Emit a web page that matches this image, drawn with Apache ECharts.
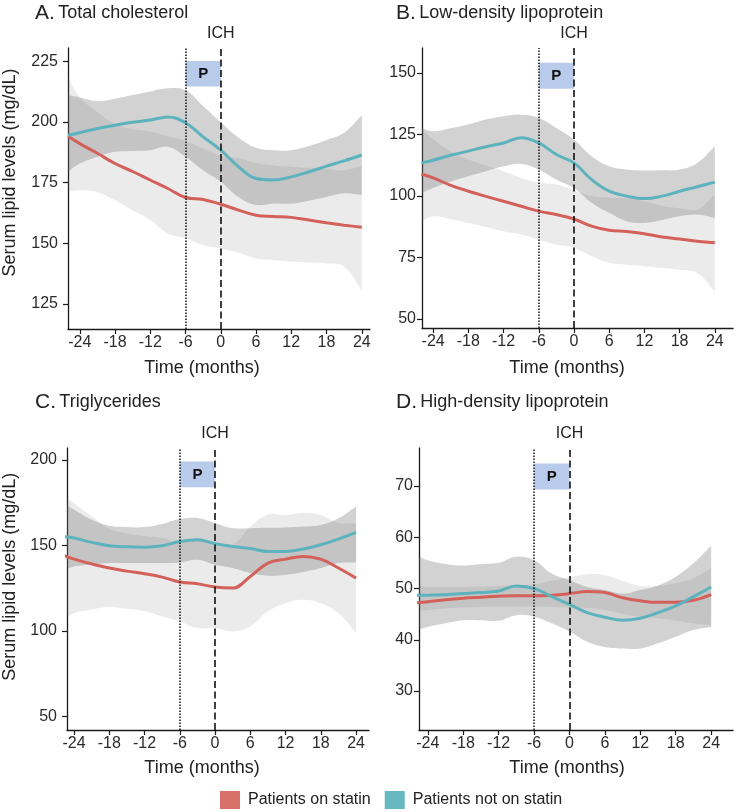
<!DOCTYPE html>
<html>
<head>
<meta charset="utf-8">
<script src="https://cdn.jsdelivr.net/npm/echarts@6/dist/echarts.min.js"></script>
<style>
html,body{margin:0;padding:0;background:#fff;}
#chart{width:739px;height:812px;}
</style>
</head>
<body>
<div id="chart"></div>
<script>
// ---- data ----
const months = [-26,-24,-21,-18,-15,-12,-9,-6,-3,0,3,6,9,12,15,18,21,24];
const xTicks = [-24,-18,-12,-6,0,6,12,18,24];
const eventMonths = [-6, 0];            // start of P period, ICH
const seriesNames = ['Patients on statin', 'Patients not on statin'];

// A. Total cholesterol
const tcStatin     = [194,191,187,182.8,179.5,176,172.5,168.8,168,166,163.6,161.5,161,160.6,159.5,158.4,157.4,156.5];
const tcStatinLo   = [171.2,171.8,171,167.7,163.5,159.5,154,152,149.2,147.8,146,143.7,143,142.3,142,141.6,140.3,130.6];
const tcStatinHi   = [218.5,210,204,199,197,196,194,192,189,186,185,183,182,181.5,181,180.5,180,182];
const tcNoStatin   = [194.5,195.5,197.2,198.6,199.8,200.7,202.0,199.6,193.8,188.3,181.5,176.6,176.0,177.3,179.4,181.7,183.9,186.3];
const tcNoStatinLo = [179.4,182.8,185.5,187.6,188,188.3,189.7,185.6,180,175.3,169,165.7,166.3,166.3,167.5,169,170.5,169.8];
const tcNoStatinHi = [211,210,208.5,209.5,211,212.5,213.8,213,206.5,199.8,193.5,189.3,188.3,188.3,190,192.5,195.5,202.7];
const tcTicks = [125,150,175,200,225];
const tcPBox = [214.5, 225];

// B. Low-density lipoprotein
const ldlStatin     = [108.9,107.3,104.3,101.9,99.8,97.8,95.8,93.8,92.4,90.6,87.7,86,85.5,84.6,83.3,82.5,81.6,80.9];
const ldlStatinLo   = [89.7,91.7,90.5,89,87.3,85.6,84.3,82.2,80.2,78.9,75.5,72.8,72,71.4,70.7,70,68.7,61.2];
const ldlStatinHi   = [127.2,123,118,114.8,112.3,110,107.3,105.4,104.6,102.3,99.9,99.2,99,97.8,95.9,95,94.5,100.6];
const ldlNoStatin   = [113.4,114.5,116.5,118.2,120,121.5,123.6,121.5,116.8,113.4,106.6,101.9,99.9,98.9,99.9,101.9,103.7,105.6];
const ldlNoStatinLo = [101.2,103.2,105.8,108,110,112,113,110.7,106.6,103.2,97.2,93.1,89.7,89,90.2,91.7,92.4,91];
const ldlNoStatinHi = [127.6,126.3,127.5,129,131,132.4,133,131.7,127.6,122.9,116.1,112,110.7,110.3,110.4,110.7,113.4,120.2];
const ldlTicks = [50,75,100,125,150];
const ldlPBox = [143.5, 154.1];

// C. Triglycerides
const tgStatin     = [144.5,142,139.2,136.8,135,133.5,131.5,128.6,127.6,125.7,125.1,131.9,139.7,142,143.6,142,136.8,130.9];
const tgStatinLo   = [106,110.5,112.5,114,113,111.5,108.6,105.6,101.7,101.7,99.8,102.7,111.5,116.3,118.3,116.3,110.5,98.8];
const tgStatinHi   = [180,174.7,167,159.6,157,155.5,154.4,151.6,153.5,149.7,150.4,161,168,167.7,168.9,167.7,163,163];
const tgNoStatin   = [155.2,154.3,151.8,149.8,149.2,149,149.8,152.3,153.3,151,149.4,148.2,146.5,146.5,147.9,150.4,153.7,157.6];
const tgNoStatinLo = [135.5,137.7,138.8,139.7,139.7,139.7,139.7,140,141.6,138.7,136.8,133.9,132.3,132.8,134.5,136.8,139.7,140.1];
const tgNoStatinHi = [175,170.8,165,161.5,160.8,160.7,162.5,165.4,166,163,160.1,160.1,160.3,160.5,161,162,165.9,172.8];
const tgTicks = [50,100,150,200];
const tgPBox = [184, 199];

// D. High-density lipoprotein
const hdlStatin     = [47.2,47.4,47.8,48.1,48.3,48.5,48.6,48.6,48.7,49.0,49.4,49.2,48.2,47.6,47.3,47.3,47.7,48.8];
const hdlStatinLo   = [45.5,45.8,46.1,46.3,46.4,46.5,46.5,46.5,46.4,46.3,46.2,45.8,45,44.5,44.2,43.8,43.2,42.8];
const hdlStatinHi   = [50.5,50.3,50.3,50.3,50.4,50.5,50.7,50.8,51.5,52.2,52.8,52.6,51.5,50.5,50.5,51,52,54];
const hdlNoStatin   = [48.7,48.7,48.8,49.0,49.2,49.5,50.5,50.0,48.4,46.9,45.3,44.4,43.8,44.2,45.3,46.6,48.4,50.3];
const hdlNoStatinLo = [41.9,42.5,43.2,43.8,43.8,43.7,44.8,44.5,43.2,41.6,39.6,38.6,38.3,38.3,39.3,40.6,41.9,42.5];
const hdlNoStatinHi = [56.5,55.5,54.8,54.5,54.8,55,56.2,55.5,52.9,51.6,50.3,49.7,49,49.7,50.6,52.3,54.9,58.4];
const hdlTicks = [30,40,50,60,70];
const hdlPBox = [69.3, 74.4];

const titles = ['A.', 'B.', 'C.', 'D.'];
const subtitles = ['Total cholesterol', 'Low-density lipoprotein', 'Triglycerides', 'High-density lipoprotein'];

// ---- layout / style ----
const RED = '#d4605a', TEAL = '#5cb3bd';
const SMOOTH = 0.4;
const panels = [
  {grid:{left:68,top:48,width:302,height:281}, x:[-26.0,25.4], y:[114.6,230.4], labelMargin:10,
   s:tcStatin, sLo:tcStatinLo, sHi:tcStatinHi, n:tcNoStatin, nLo:tcNoStatinLo, nHi:tcNoStatinHi, ticks:tcTicks, p:tcPBox},
  {grid:{left:422,top:48,width:311,height:280}, x:[-25.9,27.1], y:[46.3,160.1], labelMargin:6,
   s:ldlStatin, sLo:ldlStatinLo, sHi:ldlStatinHi, n:ldlNoStatin, nLo:ldlNoStatinLo, nHi:ldlNoStatinHi, ticks:ldlTicks, p:ldlPBox},
  {grid:{left:67,top:448,width:302,height:282}, x:[-25.2,26.2], y:[42.2,206.9], labelMargin:10,
   s:tgStatin, sLo:tgStatinLo, sHi:tgStatinHi, n:tgNoStatin, nLo:tgNoStatinLo, nHi:tgNoStatinHi, ticks:tgTicks, p:tgPBox},
  {grid:{left:419,top:448,width:314,height:282}, x:[-25.5,27.7], y:[22.4,77.4], labelMargin:6,
   s:hdlStatin, sLo:hdlStatinLo, sHi:hdlStatinHi, n:hdlNoStatin, nLo:hdlNoStatinLo, nHi:hdlNoStatinHi, ticks:hdlTicks, p:hdlPBox}
];
const titlePos = [[35,13],[396,13],[35,402],[396,402]];
const xTitlePos = [[202,368],[567,368],[202,768],[567,768]];
const yTitlePos = [[10,172.5],[10,576.7]];

const FONT = '"Liberation Sans", Arial, Helvetica, sans-serif';
const pair = (xs, ys) => xs.map((x, i) => [x, ys[i]]);

// smooth curve through pixel points (same scheme as the line series' smoothing)
function curvePath(pts, first) {
  let d = (first ? 'M' : 'L') + pts[0][0] + ' ' + pts[0][1];
  const n = pts.length;
  const cp = pts.map((p, i) => {
    const prev = pts[Math.max(i - 1, 0)], next = pts[Math.min(i + 1, n - 1)];
    const vx = next[0] - prev[0], vy = next[1] - prev[1];
    const l0 = Math.hypot(p[0] - prev[0], p[1] - prev[1]);
    const l1 = Math.hypot(next[0] - p[0], next[1] - p[1]);
    const r = (l0 + l1) ? l1 / (l0 + l1) : 0.5;
    return {
      out: [p[0] + vx * SMOOTH * r, p[1] + vy * SMOOTH * r],
      inn: [p[0] - vx * SMOOTH * (1 - r), p[1] - vy * SMOOTH * (1 - r)]
    };
  });
  for (let i = 0; i < n - 1; i++) {
    const a = cp[i].out, b = cp[i + 1].inn, q = pts[i + 1];
    d += ' C' + a[0] + ' ' + a[1] + ' ' + b[0] + ' ' + b[1] + ' ' + q[0] + ' ' + q[1];
  }
  return d;
}

function bandSeries(i, lo, hi, fill) {
  return {
    type:'custom', xAxisIndex:i, yAxisIndex:i, silent:true, animation:false, clip:true, z:1,
    data: months.map((m, k) => [m, lo[k], hi[k]]),
    renderItem: function (params, api) {
      if (params.dataIndex !== 0) return null;
      const up = [], dn = [];
      for (let k = 0; k < months.length; k++) {
        up.push(api.coord([months[k], hi[k]]));
        dn.push(api.coord([months[k], lo[k]]));
      }
      dn.reverse();
      const d = curvePath(up, true) + ' ' + curvePath(dn, false) + ' Z';
      const cs = params.coordSys;
      return {
        type:'path', shape:{pathData:d}, style:{fill:fill, stroke:null},
        clipPath:{type:'rect', shape:{x:cs.x, y:cs.y, width:cs.width, height:cs.height}}
      };
    }
  };
}

const grids = [], xAxes = [], yAxes = [], series = [], graphics = [];
panels.forEach((p, i) => {
  grids.push(Object.assign({containLabel:false}, p.grid));
  xAxes.push({
    type:'value', gridIndex:i, min:p.x[0], max:p.x[1],
    axisLine:{show:true, onZero:false, lineStyle:{color:'#1a1a1a', width:1.3}},
    axisTick:{show:true, length:5, customValues:xTicks, lineStyle:{color:'#1a1a1a', width:1.2}},
    axisLabel:{customValues:xTicks, fontSize:16, color:'#2b2b2b', margin:6, fontFamily:FONT},
    splitLine:{show:false}
  });
  yAxes.push({
    type:'value', gridIndex:i, min:p.y[0], max:p.y[1],
    axisLine:{show:true, onZero:false, lineStyle:{color:'#1a1a1a', width:1.3}},
    axisTick:{show:true, length:5, customValues:p.ticks, lineStyle:{color:'#1a1a1a', width:1.2}},
    axisLabel:{customValues:p.ticks, fontSize:16, color:'#2b2b2b', margin:p.labelMargin, fontFamily:FONT},
    splitLine:{show:false}
  });
  series.push(bandSeries(i, p.sLo, p.sHi, 'rgba(110,110,110,0.14)'));
  series.push(bandSeries(i, p.nLo, p.nHi, 'rgba(100,100,100,0.29)'));
  const base = {xAxisIndex:i, yAxisIndex:i, showSymbol:false, symbol:'none', smooth:SMOOTH, silent:true, animation:false, clip:true};
  series.push(Object.assign({}, base, {type:'line', name:seriesNames[0], data:pair(months,p.s), lineStyle:{color:RED, width:3}, itemStyle:{color:RED}, z:3}));
  series.push(Object.assign({}, base, {type:'line', name:seriesNames[1], data:pair(months,p.n), lineStyle:{color:TEAL, width:3}, itemStyle:{color:TEAL}, z:3,
    markArea:{silent:true, itemStyle:{color:'#b9cbea'},
      label:{show:true, position:'inside', formatter:'P', fontWeight:'bold', fontSize:15, color:'#111', fontFamily:FONT},
      data:[[{xAxis:eventMonths[0], yAxis:p.p[0]},{xAxis:eventMonths[1], yAxis:p.p[1]}]]},
    markLine:{silent:true, symbol:['none','none'], animation:false,
      data:[
        {xAxis:eventMonths[0], lineStyle:{type:[1.5,1.5], color:'#111', width:1.5}, label:{show:false}},
        {xAxis:eventMonths[1], lineStyle:{type:[7,3.5], color:'#111', width:1.6},
         label:{show:true, position:'end', formatter:'ICH', fontSize:16, color:'#222', distance:6, fontFamily:FONT}}
      ]}
  }));
  graphics.push({type:'text', x:titlePos[i][0], y:titlePos[i][1], silent:true,
    style:{text:'{a|'+titles[i]+'} {b|'+subtitles[i]+'}', verticalAlign:'middle', align:'left',
      rich:{a:{fontSize:21, fontFamily:FONT, fill:'#222'}, b:{fontSize:18, fontFamily:FONT, fill:'#222'}}}});
  graphics.push({type:'text', x:xTitlePos[i][0], y:xTitlePos[i][1], silent:true,
    style:{text:'Time (months)', fontSize:18, fontFamily:FONT, fill:'#222', align:'center', verticalAlign:'middle'}});
});
yTitlePos.forEach(pos => {
  graphics.push({type:'text', x:pos[0], y:pos[1], rotation:Math.PI/2, silent:true,
    style:{text:'Serum lipid levels (mg/dL)', fontSize:18, fontFamily:FONT, fill:'#222', align:'center', verticalAlign:'middle'}});
});

const chart = echarts.init(document.getElementById('chart'), null, {renderer:'canvas'});
chart.setOption({
  animation:false,
  backgroundColor:'#fff',
  textStyle:{fontFamily:FONT},
  grid:grids, xAxis:xAxes, yAxis:yAxes, series:series, graphic:graphics,
  legend:{
    left:220, top:791, padding:0, itemWidth:20, itemHeight:18, itemGap:14, icon:'rect', selectedMode:false,
    textStyle:{fontSize:16, color:'#222', fontFamily:FONT, padding:[0,0,0,3]},
    data:[{name:seriesNames[0], itemStyle:{color:'#d9716b'}}, {name:seriesNames[1], itemStyle:{color:'#68b8c1'}}]
  }
});
</script>
</body>
</html>
